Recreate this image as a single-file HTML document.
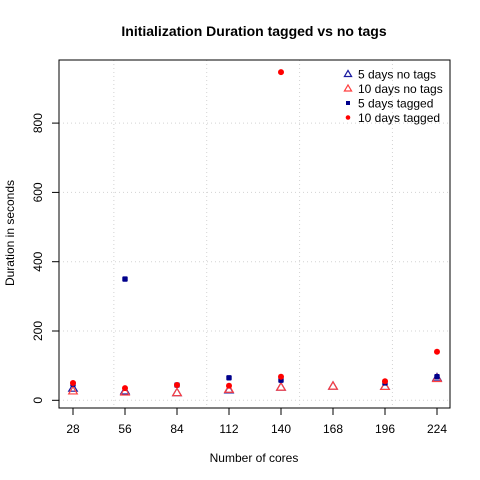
<!DOCTYPE html>
<html><head><meta charset="utf-8"><style>
body{margin:0;background:#fff;}
svg{display:block;font-family:"Liberation Sans",sans-serif;}
</style></head><body>
<svg id="chart" width="480" height="480"></svg>
<script>
const xTicks=[28,56,84,112,140,168,196,224];
const yTicks=[0,200,400,600,800];
const gridX=[50,100,150,200];
const x5n=[28,56,84,112,140,168,196,224];
const y5n=[35,27,22,30,38,41,40,65];
const x10n=[28,56,84,112,140,168,196,224];
const y10n=[27,24,22,32,38,41,40,63];
const x5t=[28,56,84,112,140,196,224];
const y5t=[47,350,44,65,58,50,68];
const x10t=[28,56,84,112,140,140,196,224];
const y10t=[50,35,44,42,68,947,55,140];
const NS="http://www.w3.org/2000/svg";
const svg=document.getElementById('chart');
const sx=v=>73+(v-28)*52/28;
const sy=v=>400.3-v*0.3465;
function mk(t,a,parent){const e=document.createElementNS(NS,t);for(const k in a)e.setAttribute(k,a[k]);(parent||svg).appendChild(e);return e;}
gridX.forEach(v=>{const l=mk('line',{x1:sx(v),x2:sx(v),y1:60,y2:408,stroke:'#d3d3d3','stroke-dasharray':'1,3'});

});
yTicks.forEach(v=>{const l=mk('line',{x1:59,x2:450,y1:sy(v),y2:sy(v),stroke:'#d3d3d3','stroke-dasharray':'1,3'});

});
const box=mk('rect',{x:59,y:60,width:391,height:348,fill:'none',stroke:'#000'});


xTicks.forEach(v=>{mk('line',{x1:sx(v),x2:sx(v),y1:408,y2:415,stroke:'#000'});
const t=mk('text',{x:sx(v),y:433,'text-anchor':'middle','font-size':12});t.textContent=v;

});
yTicks.forEach(v=>{mk('line',{x1:52,x2:59,y1:sy(v),y2:sy(v),stroke:'#000'});
const t=mk('text',{x:0,y:0,'text-anchor':'middle','font-size':12,transform:`translate(42,${sy(v)}) rotate(-90)`});t.textContent=v;

});
function tri(x,y,c,s){s=s||4.3;const p=mk('polygon',{points:`${x},${y-s} ${x-s},${y+s*0.7} ${x+s},${y+s*0.7}`,fill:'none',stroke:c,'stroke-width':1.2});return p;}
x5n.forEach((v,i)=>{const p=tri(sx(v),sy(y5n[i]),'#1a1aa0');

});
x10n.forEach((v,i)=>{const p=tri(sx(v),sy(y10n[i]),'#ff4040');

});
x5t.forEach((v,i)=>{const p=mk('rect',{x:sx(v)-2.7,y:sy(y5t[i])-2.7,width:5.4,height:5.4,rx:1,fill:'#00008b'});

});
x10t.forEach((v,i)=>{const p=mk('circle',{cx:sx(v),cy:sy(y10t[i]),r:3,fill:'#ff0000'});

});
const lg=mk('g',{});


const labels=['5 days no tags','10 days no tags','5 days tagged','10 days tagged'];
labels.forEach((s,i)=>{const y=74+i*14.5;
if(i==0)tri(348,y,'#1a1aa0',3.6);
if(i==1)tri(348,y,'#ff4040',3.6);
if(i==2)mk('rect',{x:346,y:y-2,width:4,height:4,fill:'#00008b'},lg);
if(i==3)mk('circle',{cx:348,cy:y,r:2.3,fill:'#f00'},lg);
const t=mk('text',{x:358,y:y+4.5,'font-size':12},lg);t.textContent=s;

});
const title=mk('text',{x:254,y:36,'text-anchor':'middle','font-size':14,'font-weight':'bold'});title.textContent='Initialization Duration tagged vs no tags';


const xl=mk('text',{x:254,y:462,'text-anchor':'middle','font-size':12});xl.textContent='Number of cores';


const yl=mk('text',{x:0,y:0,'text-anchor':'middle','font-size':12,transform:'translate(14,233) rotate(-90)'});yl.textContent='Duration in seconds';


</script>
</body></html>
